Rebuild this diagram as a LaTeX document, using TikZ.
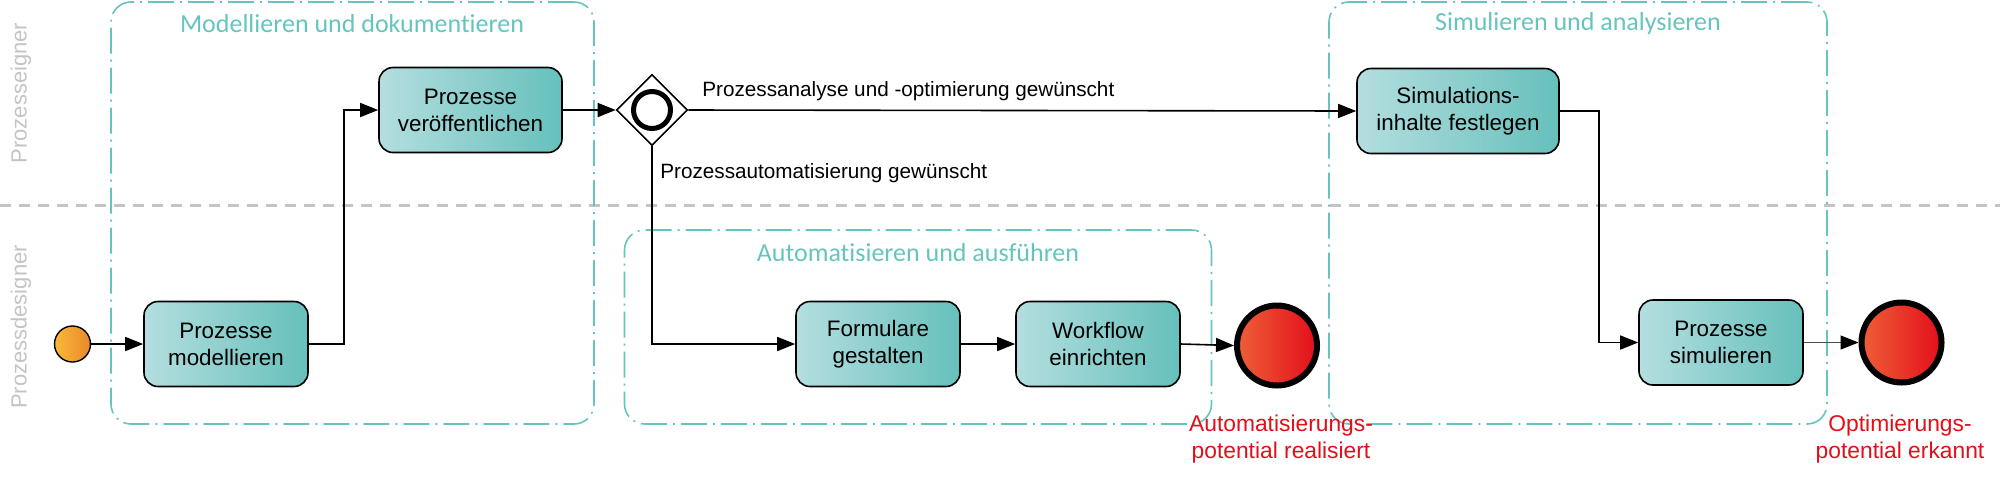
\documentclass[tikz,border=0pt]{standalone}
\usepackage{fontspec}
\setmainfont{Liberation Sans}
\newfontfamily\titelfont[Ligatures=NoCommon]{Carlito}
\usetikzlibrary{arrows.meta,shapes.geometric}
\definecolor{tuerkis}{HTML}{66C4BE}
\definecolor{boxhell}{HTML}{B4DEDF}
\definecolor{boxdunkel}{HTML}{66C0BC}
\definecolor{rahmengrau}{HTML}{C4C4C4}
\definecolor{endrot}{HTML}{E30E1A}
\definecolor{endorange}{HTML}{EE5F38}
\definecolor{starthell}{HTML}{FBB83A}
\definecolor{startdunkel}{HTML}{E8892A}
\tikzset{
  aufgabe/.style={draw, line width=0.8pt, rounded corners=7pt, left color=boxhell, middle color=boxhell!78!boxdunkel, right color=boxdunkel, minimum height=42.5pt, align=center, inner sep=0pt, font=\fontsize{11.2}{13.6}\selectfont},
  gruppe/.style={draw=tuerkis, line width=0.8pt, rounded corners=10pt, dash pattern=on 13pt off 3pt on 1pt off 3pt, inner sep=0pt},
  gruppentitel/.style={text=tuerkis, inner sep=0pt, font=\titelfont\fontsize{13}{15}\selectfont},
  ablauf/.style={draw, line width=0.8pt, -{Triangle[length=9pt,width=7pt]}},
  hinweis/.style={inner sep=0pt, anchor=west, font=\fontsize{10.35}{12}\selectfont},
  rolle/.style={text=rahmengrau, rotate=90, inner sep=0pt, font=\fontsize{11}{13}\selectfont},
  ende/.style={circle, draw, line width=3pt, left color=endorange, right color=endrot, minimum size=40pt, inner sep=0pt},
  endtext/.style={text=endrot, align=center, inner sep=0pt, font=\fontsize{11.4}{13.6}\selectfont},
}
\begin{document}
\begin{tikzpicture}[x=0.5pt,y=-0.5pt]
\useasboundingbox (0,0) rectangle (2000,479);

\coordinate (linksaussen) at (0,205);
\coordinate (rechtsaussen) at (2000,205);
\draw[rahmengrau, line width=1.5pt, dash pattern=on 5.5pt off 4pt] (linksaussen) -- (rechtsaussen);

\node[rolle] (eigner) at (21,93) {Prozesseigner};
\node[rolle] (designer) at (21,327) {Prozessdesigner};

\node[gruppe, minimum width=241.5pt, minimum height=211pt] (modellgruppe) at (352.5,213) {};
\node[gruppe, minimum width=293.5pt, minimum height=97pt] (autogruppe) at (918,327) {};
\node[gruppe, minimum width=249pt, minimum height=211pt] (simgruppe) at (1578,213) {};

\node[gruppentitel] (modelltitel) at (352,24) {Modellieren und dokumentieren};
\node[gruppentitel] (autotitel) at (918,253) {Automatisieren und ausführen};
\node[gruppentitel] (simtitel) at (1578,24) {Simulieren und analysieren};

\node[circle, draw, line width=0.7pt, left color=starthell, right color=startdunkel, minimum size=18pt, inner sep=0pt] (start) at (72.5,344) {};
\node[aufgabe, minimum width=82pt] (modellieren) at (226,344) {Prozesse\\modellieren};
\node[aufgabe, minimum width=91.5pt] (veroeffentlichen) at (470.5,110) {Prozesse\\veröffentlichen};
\node[diamond, draw, line width=0.8pt, aspect=1, fill=white, minimum size=35.5pt, inner sep=0pt] (gateway) at (652,110) {};
\node[circle, draw, line width=2.5pt, minimum size=18.5pt, inner sep=0pt] (ring) at (652,110) {};
\node[aufgabe, minimum width=82pt] (formulare) at (878,344) {Formulare\\gestalten};
\node[aufgabe, minimum width=82pt] (workflow) at (1098,344) {Workflow\\einrichten};
\node[ende] (autoende) at (1277,345.5) {};
\node[aufgabe, minimum width=101pt] (inhalte) at (1458,111) {Simulations-\\inhalte festlegen};
\node[aufgabe, minimum width=82pt] (simulieren) at (1721,342.5) {Prozesse\\simulieren};
\node[ende] (simende) at (1901.5,342.5) {};

\node[hinweis] (analysetext) at (702,91) {Prozessanalyse und -optimierung gewünscht};
\node[hinweis] (autotext) at (660,173) {Prozessautomatisierung gewünscht};
\node[endtext] (autoendetext) at (1281,439) {Automatisierungs-\\potential realisiert};
\node[endtext] (simendetext) at (1900,439) {Optimierungs-\\potential erkannt};

\coordinate (knickeins) at (344,110);
\coordinate (knickzwei) at (652,344);
\coordinate (knickdrei) at (1599,111);
\coordinate (knickvier) at (1599,342.5);

\draw[ablauf] (start) -- (modellieren);
\draw[ablauf] (modellieren.east) -| (knickeins) -- (veroeffentlichen.west);
\draw[ablauf] (veroeffentlichen) -- (gateway);
\draw[ablauf] (gateway.east) -- (inhalte.west);
\draw[ablauf] (gateway.south) -- (knickzwei) -- (formulare.west);
\draw[ablauf] (formulare) -- (workflow);
\draw[ablauf] (workflow.east) -- (autoende.west);
\draw[ablauf] (inhalte.east) -- (knickdrei) -- (knickvier) -- (simulieren.west);
\draw[draw=black!70, line width=0.6pt, -{Triangle[length=9pt,width=7pt,color=black]}] (simulieren) -- (simende);
\end{tikzpicture}
\end{document}
